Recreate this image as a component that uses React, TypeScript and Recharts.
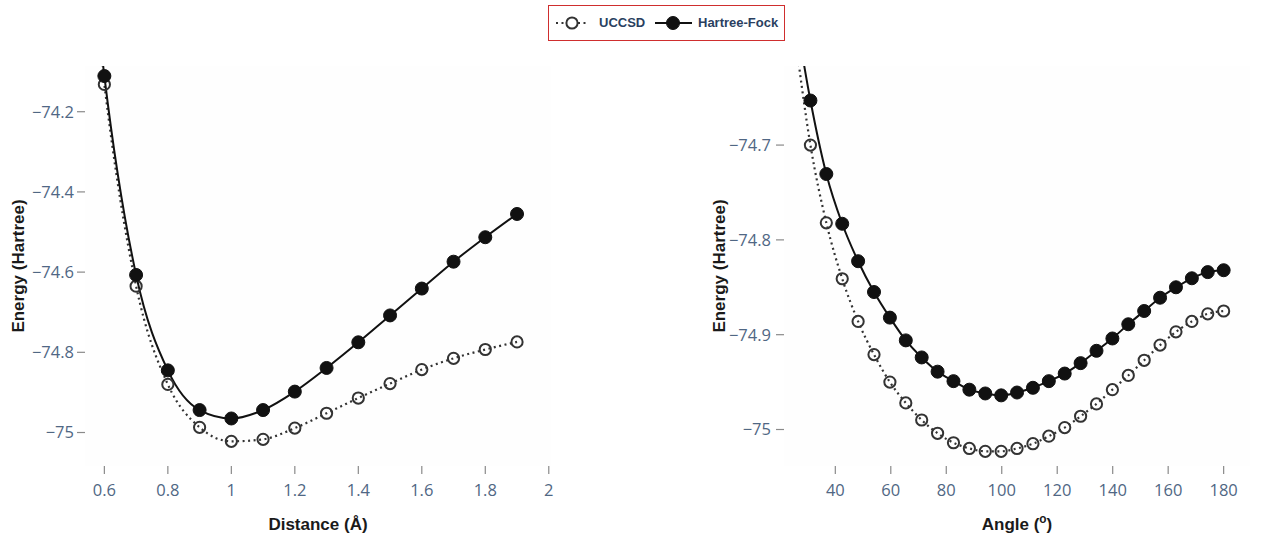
import React from 'react';
import { LineChart, Line, XAxis, YAxis, CartesianGrid } from 'recharts';

// ---------- Left panel: energy vs distance ----------
const distances = [0.5, 0.6, 0.7, 0.8, 0.9, 1.0, 1.1, 1.2, 1.3, 1.4, 1.5, 1.6, 1.7, 1.8, 1.9];
const uccsdByDistance = [-73.33, -74.132, -74.635, -74.88, -74.987, -75.022, -75.017, -74.989, -74.952, -74.914, -74.878, -74.843, -74.815, -74.793, -74.774];
const hfByDistance = [-73.30, -74.111, -74.607, -74.845, -74.944, -74.965, -74.944, -74.898, -74.839, -74.775, -74.708, -74.641, -74.574, -74.513, -74.455];
const distanceTicks = [0.6, 0.8, 1, 1.2, 1.4, 1.6, 1.8, 2];
const distanceEnergyTicks = [-75, -74.8, -74.6, -74.4, -74.2];

// ---------- Right panel: energy vs angle ----------
const angles = [25.3, 31.03, 36.76, 42.49, 48.22, 53.95, 59.68, 65.41, 71.14, 76.87, 82.6, 88.33, 94.06, 99.79, 105.51, 111.24, 116.97, 122.7, 128.43, 134.16, 139.89, 145.62, 151.35, 157.08, 162.81, 168.54, 174.27, 180];
const uccsdByAngle = [-74.58, -74.7, -74.782, -74.841, -74.886, -74.921, -74.95, -74.972, -74.99, -75.004, -75.014, -75.02, -75.023, -75.023, -75.02, -75.015, -75.007, -74.998, -74.986, -74.973, -74.958, -74.943, -74.927, -74.911, -74.897, -74.886, -74.878, -74.875];
const hfByAngle = [-74.555, -74.653, -74.7305, -74.783, -74.8225, -74.855, -74.882, -74.906, -74.924, -74.939, -74.949, -74.958, -74.962, -74.964, -74.961, -74.956, -74.949, -74.941, -74.93, -74.917, -74.904, -74.889, -74.875, -74.861, -74.85, -74.8405, -74.834, -74.832];
const angleTicks = [40, 60, 80, 100, 120, 140, 160, 180];
const angleEnergyTicks = [-75, -74.9, -74.8, -74.7];

const distanceData = distances.map((x, i) => ({ x, uccsd: uccsdByDistance[i], hf: hfByDistance[i] }));
const angleData = angles.map((x, i) => ({ x, uccsd: uccsdByAngle[i], hf: hfByAngle[i] }));

const TICK_COLOR = '#506784';
const TICKLINE = '#8a8a8a';
const TICK_FONT = { fill: TICK_COLOR, fontSize: 16.5, fontFamily: "'Open Sans', sans-serif" };
const fmt = (v: number) => (v < 0 ? '\u2212' + String(Math.abs(v)) : String(v));

type PanelProps = {
  data: { x: number; uccsd: number; hf: number }[];
  width: number;
  height: number;
  leftW: number;
  rightW: number;
  marginRight: number;
  xDomain: [number, number];
  yDomain: [number, number];
  xTicks: number[];
  yTicks: number[];
  yTickMargin: number;
};

function Panel(p: PanelProps) {
  return (
    <LineChart width={p.width} height={p.height} data={p.data} margin={{ top: 0, left: 0, right: p.marginRight, bottom: 39 }}>
      <CartesianGrid horizontal={false} vertical={false} fill="#fefefe" />
      <XAxis
        dataKey="x"
        type="number"
        domain={p.xDomain}
        ticks={p.xTicks}
        allowDataOverflow
        interval={0}
        height={30}
        axisLine={false}
        tickLine={{ stroke: TICKLINE, strokeWidth: 1.2 }}
        tickSize={8}
        tickMargin={10}
        tick={TICK_FONT}
        tickFormatter={fmt}
      />
      <XAxis
        xAxisId="top"
        orientation="top"
        dataKey="x"
        type="number"
        domain={p.xDomain}
        ticks={p.xTicks}
        allowDataOverflow
        interval={0}
        height={66}
        axisLine={false}
        tickLine={{ stroke: TICKLINE, strokeWidth: 1.2 }}
        tickSize={8}
        tick={false}
      />
      <YAxis
        type="number"
        domain={p.yDomain}
        ticks={p.yTicks}
        allowDataOverflow
        interval={0}
        width={p.leftW}
        axisLine={false}
        tickLine={{ stroke: TICKLINE, strokeWidth: 1.2 }}
        tickSize={8}
        tickMargin={p.yTickMargin}
        tick={TICK_FONT}
        tickFormatter={fmt}
      />
      <YAxis
        yAxisId="right"
        orientation="right"
        type="number"
        domain={p.yDomain}
        ticks={p.yTicks}
        allowDataOverflow
        interval={0}
        width={p.rightW}
        axisLine={false}
        tickLine={{ stroke: TICKLINE, strokeWidth: 1.2 }}
        tickSize={8}
        tick={false}
      />
      <Line
        dataKey="uccsd"
        type="monotone"
        stroke="#333"
        strokeWidth={2.2}
        strokeDasharray="2 3.5"
        dot={{ r: 5.6, fill: 'none', stroke: '#333', strokeWidth: 2, strokeDasharray: '0' }}
        activeDot={false}
        isAnimationActive={false}
      />
      <Line
        dataKey="hf"
        type="monotone"
        stroke="#111"
        strokeWidth={2}
        dot={{ r: 6.5, fill: '#111', stroke: '#111', strokeWidth: 1, strokeDasharray: '0' }}
        activeDot={false}
        isAnimationActive={false}
      />
    </LineChart>
  );
}

const titleFont: React.CSSProperties = {
  position: 'absolute',
  fontFamily: "'Liberation Sans', Arial, sans-serif",
  fontWeight: 'bold',
  fontSize: 17,
  color: '#1a1a1a',
  textAlign: 'center',
  whiteSpace: 'nowrap',
  lineHeight: '20px',
  height: 20,
  width: 240,
};

const legendText: React.CSSProperties = {
  position: 'absolute',
  fontFamily: "'Liberation Sans', Arial, sans-serif",
  fontWeight: 'bold',
  fontSize: 13,
  color: '#2a3f5f',
  lineHeight: '16px',
  top: 15,
  whiteSpace: 'nowrap',
};

export default function App() {
  return (
    <div style={{ position: 'absolute', left: 0, top: 0, width: 1262, height: 535, background: '#fff', overflow: 'hidden' }}>
      <div style={{ position: 'absolute', left: 0, top: 0 }}>
        <Panel
          data={distanceData}
          width={600}
          height={535}
          leftW={85}
          rightW={10}
          marginRight={39}
          xDomain={[0.539, 2.007]}
          yDomain={[-75.0835, -74.086]}
          xTicks={distanceTicks}
          yTicks={distanceEnergyTicks}
          yTickMargin={3}
        />
      </div>
      <div style={{ position: 'absolute', left: 700, top: 0 }}>
        <Panel
          data={angleData}
          width={562}
          height={535}
          leftW={84}
          rightW={12}
          marginRight={0}
          xDomain={[21.5, 189.5]}
          yDomain={[-75.0385, -74.6166]}
          xTicks={angleTicks}
          yTicks={angleEnergyTicks}
          yTickMargin={5}
        />
      </div>

      {/* axis titles */}
      <div style={{ ...titleFont, left: 318 - 120, top: 515 }}>Distance (Å)</div>
      <div style={{ ...titleFont, left: 1017 - 120, top: 515 }}>
        Angle (<span style={{ fontSize: '0.7em', position: 'relative', top: '-0.55em' }}>o</span>)
      </div>
      <div style={{ ...titleFont, left: 19 - 120, top: 266 - 10, transform: 'rotate(-90deg)' }}>Energy (Hartree)</div>
      <div style={{ ...titleFont, left: 719.5 - 120, top: 266 - 10, transform: 'rotate(-90deg)' }}>Energy (Hartree)</div>

      {/* legend */}
      <div style={{ position: 'absolute', left: 548, top: 5, width: 237, height: 36, border: '1.5px solid #cf2e2e', boxSizing: 'border-box' }} />
      <svg style={{ position: 'absolute', left: 548, top: 5 }} width={150} height={36}>
        <line x1={8} y1={18} x2={40} y2={18} stroke="#333" strokeWidth={2.2} strokeDasharray="2 3.5" />
        <circle cx={24} cy={18} r={5.6} fill="#fff" stroke="#333" strokeWidth={2} />
        <line x1={107} y1={18} x2={144} y2={18} stroke="#111" strokeWidth={2} />
        <circle cx={125} cy={18} r={6.5} fill="#111" stroke="#111" strokeWidth={1} />
      </svg>
      <div style={{ ...legendText, left: 599 }}>UCCSD</div>
      <div style={{ ...legendText, left: 698 }}>Hartree-Fock</div>
    </div>
  );
}
